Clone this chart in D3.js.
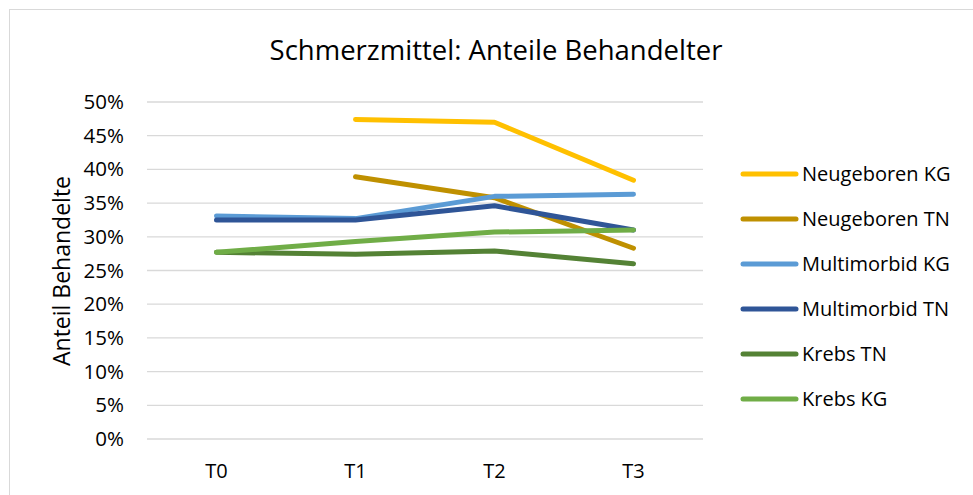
<!DOCTYPE html>
<html>
<head>
<meta charset="utf-8">
<script src="https://cdn.jsdelivr.net/npm/d3@7"></script>
<style>
	body { margin: 0; background: #fff; }
	svg text { font-family: "Open Sans", "Noto Sans", sans-serif; fill: #000; }
</style>
</head>
<body>
<svg width="973" height="495"></svg>
<script>
// chart data
var categories = ["T0", "T1", "T2", "T3"];
var seriesNames = ["Neugeboren KG", "Neugeboren TN", "Multimorbid KG", "Multimorbid TN", "Krebs TN", "Krebs KG"];
var neugeborenKG = [null, 0.474, 0.470, 0.384];
var neugeborenTN = [null, 0.389, 0.358, 0.283];
var multimorbidKG = [0.331, 0.327, 0.360, 0.363];
var multimorbidTN = [0.325, 0.325, 0.346, 0.310];
var krebsTN = [0.277, 0.274, 0.279, 0.260];
var krebsKG = [0.277, 0.293, 0.307, 0.310];
var yTicks = [0, 0.05, 0.1, 0.15, 0.2, 0.25, 0.3, 0.35, 0.4, 0.45, 0.5];
var colors = ["#FFC000", "#BF9000", "#5B9BD5", "#2F5597", "#548235", "#70AD47"];

function draw_chart(){
	var svg = d3.select("svg"),
			left = 147, right = 703, top = 102, bottom = 439;
	var allValues = [neugeborenKG, neugeborenTN, multimorbidKG, multimorbidTN, krebsTN, krebsKG];

	// frame
	svg.append("rect")
		 .attr("x", 9.5).attr("y", 9.5)
		 .attr("width", 980).attr("height", 500)
		 .attr("fill", "none")
		 .attr("stroke", "#d9d9d9");

	svg.append("text")
		 .attr("x", 496)
		 .attr("y", 60)
		 .attr("text-anchor", "middle")
		 .attr("font-size", "27.5px")
		 .text("Schmerzmittel: Anteile Behandelter");

	var xScale = d3.scaleBand().domain(categories).range([left, right]),
			yScale = d3.scaleLinear().domain([0, 0.5]).range([bottom, top]);

	// gridlines
	svg.append("g")
		 .selectAll("line")
		 .data(yTicks)
		 .enter().append("line")
		 .attr("x1", left).attr("x2", right)
		 .attr("y1", function(d) { return yScale(d); })
		 .attr("y2", function(d) { return yScale(d); })
		 .attr("stroke", "#d9d9d9")
		 .attr("stroke-width", 1.3);

	var yAxis = svg.append("g")
		 .attr("transform", "translate(" + left + ",0)")
		 .call(d3.axisLeft(yScale).tickValues(yTicks).tickFormat(d3.format(".0%")).tickSize(0).tickPadding(23));
	yAxis.select(".domain").remove();
	yAxis.selectAll("text").attr("font-size", "20.5px").style("font-family", "'Open Sans', sans-serif").attr("fill", "#000");

	var xAxis = svg.append("g")
		 .attr("transform", "translate(0," + bottom + ")")
		 .call(d3.axisBottom(xScale).tickSize(0).tickPadding(25));
	xAxis.select(".domain").remove();
	xAxis.selectAll("text").attr("font-size", "20px").style("font-family", "'Open Sans', sans-serif").attr("fill", "#000");

	svg.append("text")
		 .attr("transform", "translate(70," + 271 + ") rotate(-90)")
		 .attr("text-anchor", "middle")
		 .attr("font-size", "23px")
		 .text("Anteil Behandelte");

	var line = d3.line()
		 .defined(function(d) { return d != null; })
		 .x(function(d, i) { return xScale(categories[i]) + xScale.bandwidth() / 2; })
		 .y(function(d) { return yScale(d); });

	svg.append("g")
		 .selectAll("path")
		 .data(allValues)
		 .enter().append("path")
		 .attr("d", line)
		 .attr("fill", "none")
		 .attr("stroke", function(d, i) { return colors[i]; })
		 .attr("stroke-width", 5)
		 .attr("stroke-linecap", "round")
		 .attr("stroke-linejoin", "round");

	// legend
	var legend = svg.append("g")
		 .selectAll("g")
		 .data(seriesNames)
		 .enter().append("g")
		 .attr("transform", function(d, i) { return "translate(0," + (174 + i * 45) + ")"; });
	legend.append("line")
		 .attr("x1", 743).attr("x2", 796)
		 .attr("stroke", function(d, i) { return colors[i]; })
		 .attr("stroke-width", 5)
		 .attr("stroke-linecap", "round");
	legend.append("text")
		 .attr("x", 802)
		 .attr("dy", "0.35em")
		 .attr("font-size", "20px")
		 .text(function(d) { return d; });
}

draw_chart();
</script>
</body>
</html>
